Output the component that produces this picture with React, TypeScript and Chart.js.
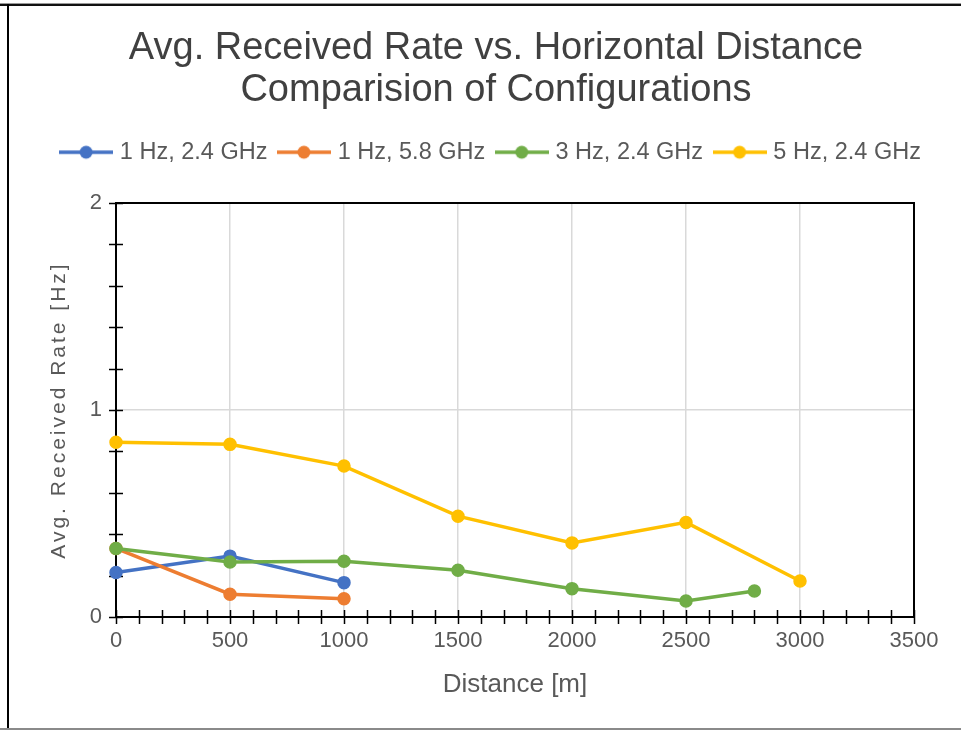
import React, { useEffect, useRef } from "react";
import { Chart, registerables } from "chart.js";

Chart.register(...registerables);

// ---------- data ----------
const TITLE_LINES = ["Avg. Received Rate vs. Horizontal Distance", "Comparision of Configurations"];
const X_TITLE = "Distance [m]";
const Y_TITLE = "Avg. Received Rate [Hz]";

const SERIES_NAMES = ["1 Hz, 2.4 GHz", "1 Hz, 5.8 GHz", "3 Hz, 2.4 GHz", "5 Hz, 2.4 GHz"];
const SERIES_COLORS = ["#4472C4", "#ED7D31", "#70AD47", "#FFC000"];

const DIST_1HZ_24 = [0, 500, 1000];
const RATE_1HZ_24 = [0.215, 0.294, 0.166];

const DIST_1HZ_58 = [0, 500, 1000];
const RATE_1HZ_58 = [0.331, 0.11, 0.088];

const DIST_3HZ_24 = [0, 500, 1000, 1500, 2000, 2500, 2800];
const RATE_3HZ_24 = [0.331, 0.266, 0.269, 0.226, 0.137, 0.077, 0.126];

const DIST_5HZ_24 = [0, 500, 1000, 1500, 2000, 2500, 3000];
const RATE_5HZ_24 = [0.844, 0.834, 0.729, 0.487, 0.358, 0.457, 0.174];

const X_MIN = 0;
const X_MAX = 3500;
const X_STEP = 500;
const X_MINOR = 100;
const Y_MIN = 0;
const Y_MAX = 2;
const Y_STEP = 1;
const Y_MINOR = 0.2;

// ---------- style ----------
const FONT = "'Liberation Sans', Arial, sans-serif";
const TEXT_DARK = "#404040";
const TEXT = "#595959";
const GRID = "#d9d9d9";
const LEGEND_GAP = 29;

function makeLegendIcon(color: string): HTMLCanvasElement {
  const c = document.createElement("canvas");
  c.width = 54;
  c.height = 16;
  const g = c.getContext("2d")!;
  g.strokeStyle = color;
  g.lineWidth = 3.5;
  g.beginPath();
  g.moveTo(0, 8);
  g.lineTo(54, 8);
  g.stroke();
  g.fillStyle = color;
  g.beginPath();
  g.arc(27, 8, 6.5, 0, Math.PI * 2);
  g.fill();
  return c;
}

function toPoints(xs: number[], ys: number[]) {
  return xs.map((x, i) => ({ x, y: ys[i] }));
}

const layoutTweaks = {
  id: "layoutTweaks",
  beforeLayout(chart: any) {
    const lg = chart.legend;
    if (lg && !lg.__wrapped) {
      const fit = lg.fit.bind(lg);
      lg.fit = () => {
        fit();
        lg.height += LEGEND_GAP;
      };
      lg.__wrapped = true;
    }
  },
  afterLayout(chart: any) {
    const t = chart.titleBlock;
    if (t) {
      t.left = 0;
      t.right = 992;
      t.width = 992;
    }
    const lg = chart.legend;
    if (lg) {
      lg.left = 0;
      lg.right = 985;
    }
    const ys = chart.scales.y;
    if (ys && !ys.__spaced) {
      const orig = ys.drawTitle.bind(ys);
      ys.drawTitle = (...args: any[]) => {
        const ctx = chart.ctx;
        ctx.save();
        (ctx as any).letterSpacing = "3px";
        orig(...args);
        ctx.restore();
      };
      ys.__spaced = true;
    }
  },
};

const frameAndTicks = {
  id: "frameAndTicks",
  beforeDatasetsDraw(chart: any) {
    const { ctx, chartArea, scales } = chart;
    const { left, right, top, bottom } = chartArea;
    const xs = scales.x;
    const ys = scales.y;
    ctx.save();
    ctx.strokeStyle = "#000";
    ctx.lineWidth = 2;
    ctx.beginPath();
    ctx.moveTo(left, top);
    ctx.lineTo(right, top);
    ctx.lineTo(right, bottom);
    ctx.stroke();
    ctx.lineWidth = 1.5;
    ctx.beginPath();
    const nx = Math.round((X_MAX - X_MIN) / X_MINOR);
    for (let i = 0; i <= nx; i++) {
      const px = Math.round(xs.getPixelForValue(X_MIN + i * X_MINOR)) + 0.5;
      ctx.moveTo(px, bottom - 7);
      ctx.lineTo(px, bottom + 7);
    }
    const ny = Math.round((Y_MAX - Y_MIN) / Y_MINOR);
    for (let i = 0; i <= ny; i++) {
      const py = Math.round(ys.getPixelForValue(Y_MIN + i * Y_MINOR)) + 0.5;
      ctx.moveTo(left - 7, py);
      ctx.lineTo(left + 7, py);
    }
    ctx.stroke();
    ctx.restore();
  },
};

export default function App() {
  const ref = useRef<HTMLCanvasElement>(null);

  useEffect(() => {
    const canvas = ref.current!;
    const icons = SERIES_COLORS.map(makeLegendIcon);
    const seriesX = [DIST_1HZ_24, DIST_1HZ_58, DIST_3HZ_24, DIST_5HZ_24];
    const seriesY = [RATE_1HZ_24, RATE_1HZ_58, RATE_3HZ_24, RATE_5HZ_24];

    const datasets = SERIES_NAMES.map((name, i) => ({
      label: name,
      data: toPoints(seriesX[i], seriesY[i]),
      borderColor: SERIES_COLORS[i],
      backgroundColor: SERIES_COLORS[i],
      pointBackgroundColor: SERIES_COLORS[i],
      pointBorderColor: SERIES_COLORS[i],
      borderWidth: 3.5,
      pointRadius: 6,
      pointBorderWidth: 1.5,
      pointStyle: "circle",
      tension: 0,
      clip: false as any,
      order: SERIES_NAMES.length - 1 - i,
    }));

    const chart = new Chart(canvas, {
      type: "line",
      data: { datasets },
      plugins: [layoutTweaks, frameAndTicks],
      options: {
        animation: false,
        responsive: false,
        devicePixelRatio: 1,
        layout: { padding: { left: 0, right: 47, top: 0, bottom: 0 } },
        plugins: {
          tooltip: { enabled: false },
          title: {
            display: true,
            text: TITLE_LINES,
            color: TEXT_DARK,
            font: { family: FONT, size: 38, weight: "normal", lineHeight: 1.1 },
            padding: { top: 28, bottom: 14.4 },
          },
          legend: {
            display: true,
            position: "top",
            labels: {
              usePointStyle: true,
              pointStyleWidth: 44,
              padding: 14.5,
              color: TEXT,
              font: { family: FONT, size: 23.5 },
              generateLabels: (ch: any) => {
                const items = (Chart.defaults.plugins.legend.labels as any).generateLabels(ch);
                return items
                  .sort((a: any, b: any) => a.datasetIndex - b.datasetIndex)
                  .map((it: any) => ({ ...it, pointStyle: icons[it.datasetIndex], fontColor: TEXT }));
              },
            },
          },
        },
        scales: {
          x: {
            type: "linear",
            min: X_MIN,
            max: X_MAX,
            afterFit: (s: any) => {
              s.height = 113;
            },
            ticks: {
              stepSize: X_STEP,
              color: TEXT,
              font: { family: FONT, size: 22 },
              padding: 11,
              maxRotation: 0,
              callback: (v: any) => String(v),
            },
            grid: {
              drawTicks: false,
              lineWidth: 1.5,
              color: (c: any) =>
                c.tick && (c.tick.value === X_MIN || c.tick.value === X_MAX) ? "rgba(0,0,0,0)" : GRID,
            },
            border: { color: "#000", width: 2 },
            title: {
              display: true,
              text: X_TITLE,
              color: TEXT,
              font: { family: FONT, size: 26 },
              padding: { top: 0, bottom: 30 },
            },
          },
          y: {
            type: "linear",
            min: Y_MIN,
            max: Y_MAX,
            afterFit: (s: any) => {
              s.width = 116;
            },
            ticks: {
              stepSize: Y_STEP,
              color: TEXT,
              font: { family: FONT, size: 22 },
              padding: 14,
              callback: (v: any) => String(v),
            },
            grid: {
              drawTicks: false,
              lineWidth: 1.5,
              color: (c: any) =>
                c.tick && (c.tick.value === Y_MIN || c.tick.value === Y_MAX) ? "rgba(0,0,0,0)" : GRID,
            },
            border: { color: "#000", width: 2 },
            title: {
              display: true,
              text: Y_TITLE,
              color: TEXT,
              font: { family: FONT, size: 21 },
              padding: { top: 47, bottom: 0 },
            },
          },
        },
      } as any,
    });
    return () => chart.destroy();
  }, []);

  return (
    <div
      style={{
        position: "fixed",
        left: 0,
        top: 0,
        width: 961,
        height: 730,
        background: "#fff",
        overflow: "hidden",
      }}
    >
      <canvas ref={ref} width={961} height={730} style={{ display: "block", width: 961, height: 730 }} />
      <div style={{ position: "absolute", left: 0, top: 3, width: 961, height: 1, background: "#999" }} />
      <div style={{ position: "absolute", left: 0, top: 4, width: 961, height: 2, background: "#111" }} />
      <div style={{ position: "absolute", left: 7, top: 4, width: 2, height: 726, background: "#000" }} />
      <div style={{ position: "absolute", left: 0, top: 728, width: 961, height: 2, background: "#8a8a8a" }} />
    </div>
  );
}
